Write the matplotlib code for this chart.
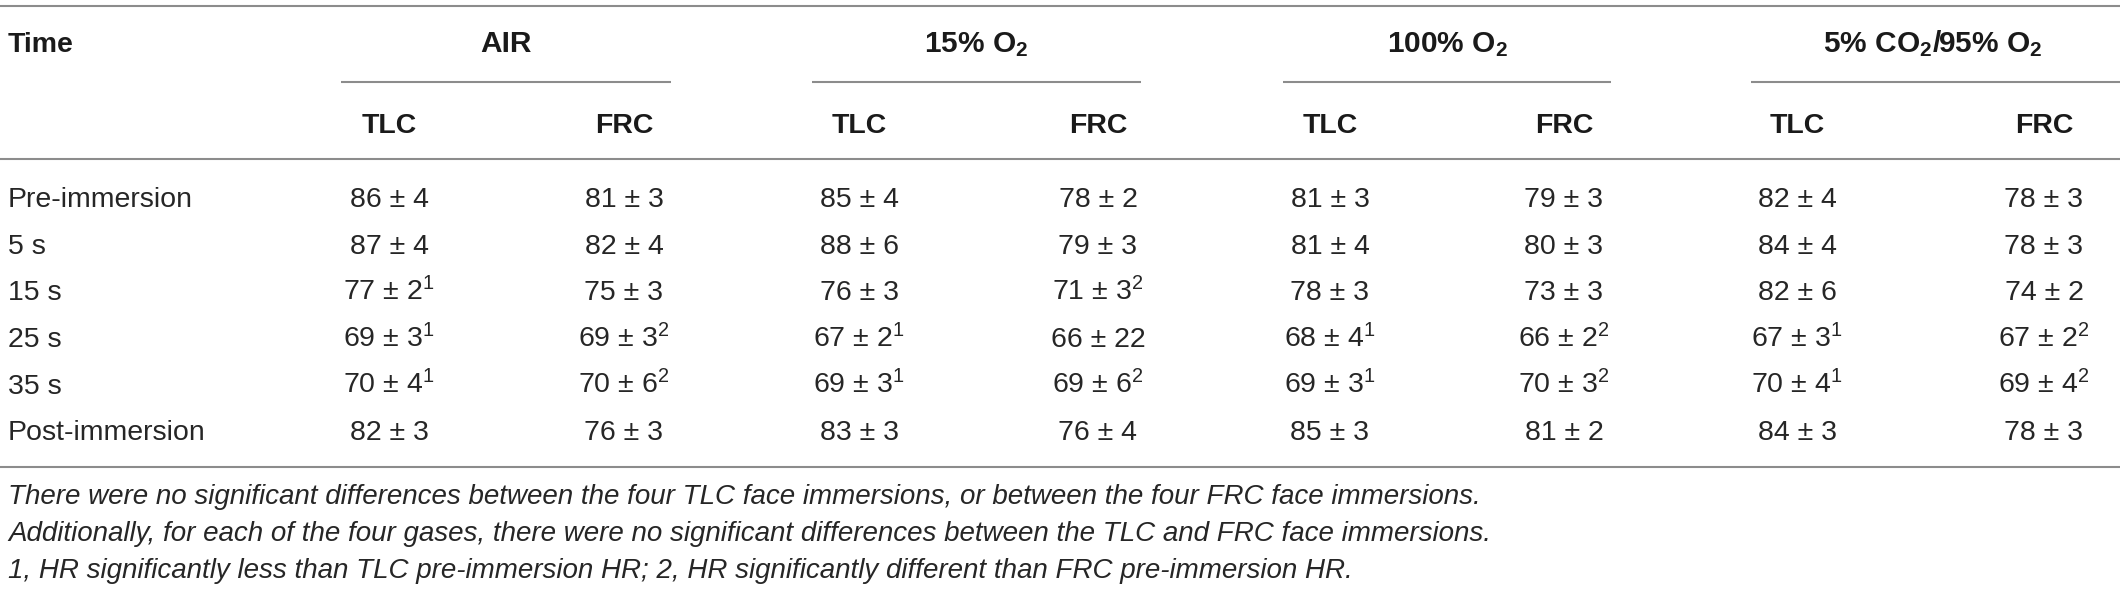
import matplotlib
matplotlib.use("Agg")
import matplotlib.pyplot as plt

plt.rcParams.update({
    "font.family": ["Liberation Sans", "DejaVu Sans"],
    "mathtext.fontset": "custom",
    "mathtext.rm": "Liberation Sans",
    "mathtext.it": "Liberation Sans:italic",
    "mathtext.bf": "Liberation Sans:bold",
    "mathtext.default": "regular",
})

# table content
times = ["Pre-immersion", "5 s", "15 s", "25 s", "35 s", "Post-immersion"]
gases = ["AIR", "15% O$_\\mathbf{2}$", "100% O$_\\mathbf{2}$",
         "5% CO$_\\mathbf{2}$/95% O$_\\mathbf{2}$"]
lungs = ["TLC", "FRC"]

air_tlc = ["86 ± 4", "87 ± 4", "77 ± 2$^1$", "69 ± 3$^1$", "70 ± 4$^1$", "82 ± 3"]
air_frc = ["81 ± 3", "82 ± 4", "75 ± 3", "69 ± 3$^2$", "70 ± 6$^2$", "76 ± 3"]
o15_tlc = ["85 ± 4", "88 ± 6", "76 ± 3", "67 ± 2$^1$", "69 ± 3$^1$", "83 ± 3"]
o15_frc = ["78 ± 2", "79 ± 3", "71 ± 3$^2$", "66 ± 22", "69 ± 6$^2$", "76 ± 4"]
o100_tlc = ["81 ± 3", "81 ± 4", "78 ± 3", "68 ± 4$^1$", "69 ± 3$^1$", "85 ± 3"]
o100_frc = ["79 ± 3", "80 ± 3", "73 ± 3", "66 ± 2$^2$", "70 ± 3$^2$", "81 ± 2"]
co2_tlc = ["82 ± 4", "84 ± 4", "82 ± 6", "67 ± 3$^1$", "70 ± 4$^1$", "84 ± 3"]
co2_frc = ["78 ± 3", "78 ± 3", "74 ± 2", "67 ± 2$^2$", "69 ± 4$^2$", "78 ± 3"]
columns = [air_tlc, air_frc, o15_tlc, o15_frc,
           o100_tlc, o100_frc, co2_tlc, co2_frc]

notes = [
    "There were no significant differences between the four TLC face immersions, or between the four FRC face immersions.",
    "Additionally, for each of the four gases, there were no significant differences between the TLC and FRC face immersions.",
    "1, HR significantly less than TLC pre-immersion HR; 2, HR significantly different than FRC pre-immersion HR.",
]

W, H = 2120, 589
fig = plt.figure(figsize=(W / 100, H / 100), dpi=100)
ax = fig.add_axes([0, 0, 1, 1])
ax.set_xlim(0, W)
ax.set_ylim(H, 0)
ax.axis("off")

# layout in pixels
col_x = [389, 624, 859, 1098, 1330, 1564, 1797, 2044]
spans = [(341, 671), (812, 1141), (1283, 1611), (1751, 2120)]
row_y0, row_dy = 197, 46.7
cap = 10  # half cap height, to place baselines
fs = 20.5
body = "#262626"
head = "#1a1a1a"
rule = "#8c8c8c"

# rules
for y in (5.5, 158.5, 466.5):
    ax.plot([0, W], [y, y], color=rule, lw=1.5, solid_capstyle="butt")
for x0, x1 in spans:
    ax.plot([x0, x1], [82, 82], color=rule, lw=1.5, solid_capstyle="butt")

# header
ax.text(8, 42 + cap, "Time", fontsize=fs, fontweight="bold", color=head,
        ha="left", va="baseline")
for g, (x0, x1) in zip(gases, spans):
    xc = (x0 + min(x1, 2114)) / 2
    ax.text(xc, 42 + cap, g, fontsize=21.5, fontweight="bold", color=head,
            ha="center", va="baseline")
for i, x in enumerate(col_x):
    ax.text(x, 123 + cap, lungs[i % 2], fontsize=fs, fontweight="bold",
            color=head, ha="center", va="baseline")

# body
for r, t in enumerate(times):
    y = row_y0 + r * row_dy + cap
    ax.text(8, y, t, fontsize=fs, color=body, ha="left", va="baseline")
    for x, col in zip(col_x, columns):
        ax.text(x, y, col[r], fontsize=fs, color=body,
                ha="center", va="baseline")

# footnotes
for k, n in enumerate(notes):
    ax.text(8, 495 + k * 37 + 9, n, fontsize=20, style="italic",
            color=body, ha="left", va="baseline")

fig.savefig("out.png", dpi=100, facecolor="white")
